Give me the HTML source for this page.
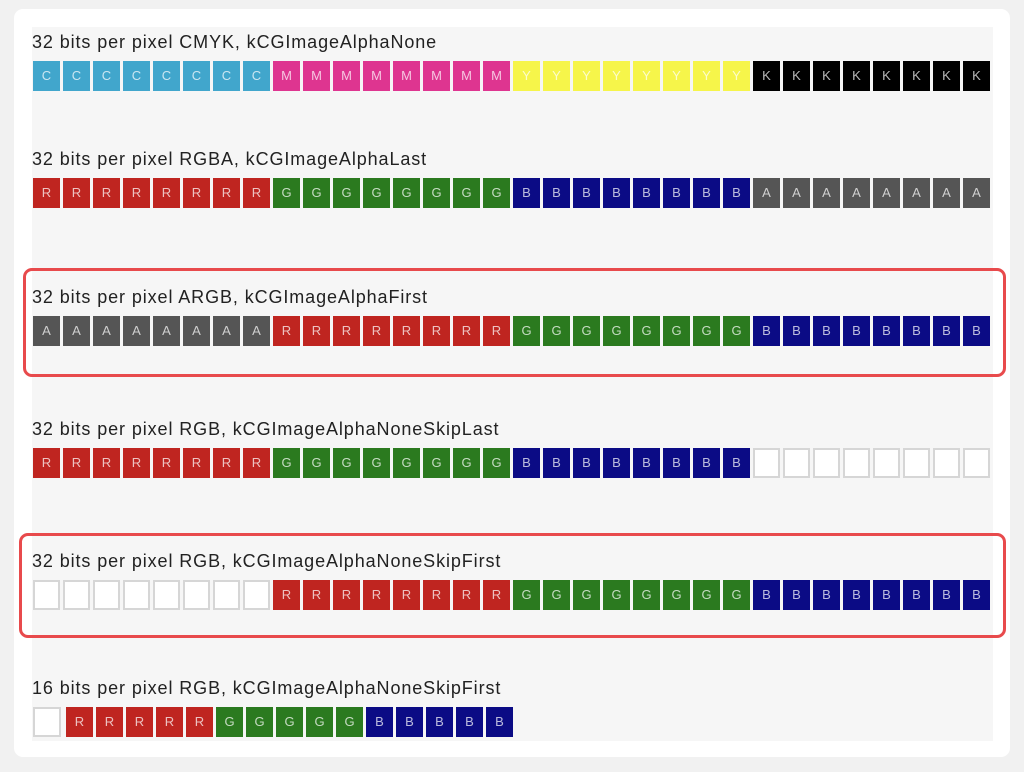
<!DOCTYPE html>
<html><head><meta charset="utf-8"><style>
body{margin:0;width:1024px;height:772px;background:#f1f1f1;position:relative;font-family:"Liberation Sans",sans-serif;overflow:hidden}
.card{position:absolute;left:14px;top:9px;width:996px;height:748px;background:#fff;border-radius:9px}
.inner{position:absolute;left:32px;top:27px;width:961px;height:714px;background:#f6f6f6}
.lbl{position:absolute;left:32px;font-size:18px;letter-spacing:0.9px;color:#222;white-space:nowrap}
.c{position:absolute;width:27px;height:30px;color:rgba(255,255,255,.72);font-size:13px;text-align:center;line-height:30px;box-sizing:border-box}
.w{background:#fff;border:2px solid #d6d6d6}
.box{position:absolute;border:3px solid #e84a4c;border-radius:9px;box-sizing:border-box}
</style></head><body>
<div class="card"></div><div class="inner"></div>
<div class="box" style="left:23px;top:268px;width:983px;height:109px"></div>
<div class="box" style="left:19px;top:533px;width:987px;height:105px"></div>
<div id="r"></div>
<script>
const col={C:'#41a6cc',M:'#de3590',Y:'#f6f54a',K:'#000',R:'#bf2520',G:'#2b7a1f',B:'#0b0b85',A:'#555',W:''};
const rows=[
[61,'32 bits per pixel CMYK, kCGImageAlphaNone','CMYK'],
[178,'32 bits per pixel RGBA, kCGImageAlphaLast','RGBA'],
[316,'32 bits per pixel ARGB, kCGImageAlphaFirst','ARGB'],
[448,'32 bits per pixel RGB, kCGImageAlphaNoneSkipLast','RGBW'],
[580,'32 bits per pixel RGB, kCGImageAlphaNoneSkipFirst','WRGB']];
let h='';
for(const [y,t,s] of rows){
 h+=`<div class="lbl" style="top:${y-29}px">${t}</div>`;
 let i=0;
 for(const ch of s)for(let k=0;k<8;k++,i++){
  const x=33+i*30;
  if(ch=='W')h+=`<div class="c w" style="left:${x}px;top:${y}px"></div>`;
  else h+=`<div class="c" style="left:${x}px;top:${y}px;background:${col[ch]}">${ch}</div>`;
 }
}
const y6=707;
h+=`<div class="lbl" style="top:${y6-29}px">16 bits per pixel RGB, kCGImageAlphaNoneSkipFirst</div>`;
h+=`<div class="c w" style="left:33px;top:${y6}px;width:28px"></div>`;
let i=0;
for(const ch of 'RGB')for(let k=0;k<5;k++,i++){
 h+=`<div class="c" style="left:${66+i*30}px;top:${y6}px;background:${col[ch]}">${ch}</div>`;
}
document.getElementById('r').innerHTML=h;
</script>
</body></html>
